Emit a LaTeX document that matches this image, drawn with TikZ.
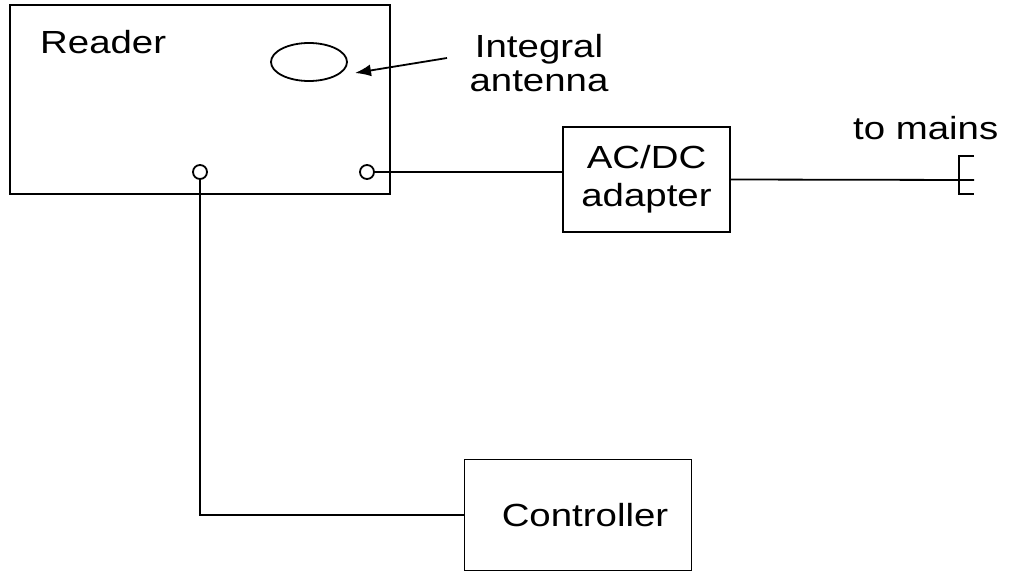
\documentclass[tikz,border=0pt]{standalone}
\usepackage{fontspec}
\newfontfamily\labfont[FakeStretch=1.2]{Liberation Sans}
\usetikzlibrary{shapes.geometric,arrows.meta}
\begin{document}
\begin{tikzpicture}[x=1pt,y=-1pt,
  every node/.style={font=\labfont\fontsize{32}{38}\selectfont},
  ln/.style={line width=1.8pt},
  boxnode/.style={draw,ln,rectangle,inner sep=0pt,align=center},
  lbl/.style={inner sep=0pt},
  port/.style={draw,ln,circle,minimum size=14pt,inner sep=0pt,fill=white}
]
\useasboundingbox (0,0) rectangle (1010,573);
\node[boxnode,minimum width=380pt,minimum height=189pt] (reader) at (200,99.5) {};
\node[lbl,anchor=base west] (readerlbl) at (40,53) {Reader};
\node[draw,ln,ellipse,minimum width=76pt,minimum height=38pt,inner sep=0pt] (ant) at (309,62) {};
\node[lbl,anchor=base] (antlbl1) at (539,57) {Integral};
\node[lbl,anchor=base] (antlbl2) at (539,91) {antenna};
\coordinate (arrS) at (447,58);
\coordinate (arrE) at (355,73);
\draw[ln,-{Latex[length=16pt,width=12pt]}] (arrS) -- (arrE);
\node[port] (p1) at (200,172) {};
\node[port] (p2) at (367,172) {};
\node[boxnode,minimum width=167pt,minimum height=105pt] (adapter) at (646.5,179.5) {AC/DC\\adapter};
\node[boxnode,minimum width=227pt,minimum height=111pt] (ctrl) at (578,515) {\hspace{14pt}Controller};
\node[lbl,anchor=base west] (mains) at (853,139) {to mains};
\coordinate (plugtip) at (974,180);
\coordinate (plugtop) at (959,156);
\coordinate (plugbot) at (959,194);
\draw[ln] (p2.east) -- (p2.east -| adapter.west);
\draw[ln] (p1.south) |- (ctrl.west);
\draw[ln] (adapter.east) -- (plugtip);
\draw[ln] (plugtop -| plugtip) -- (plugtop) -- (plugbot) -- (plugbot -| plugtip);
\end{tikzpicture}
\end{document}
